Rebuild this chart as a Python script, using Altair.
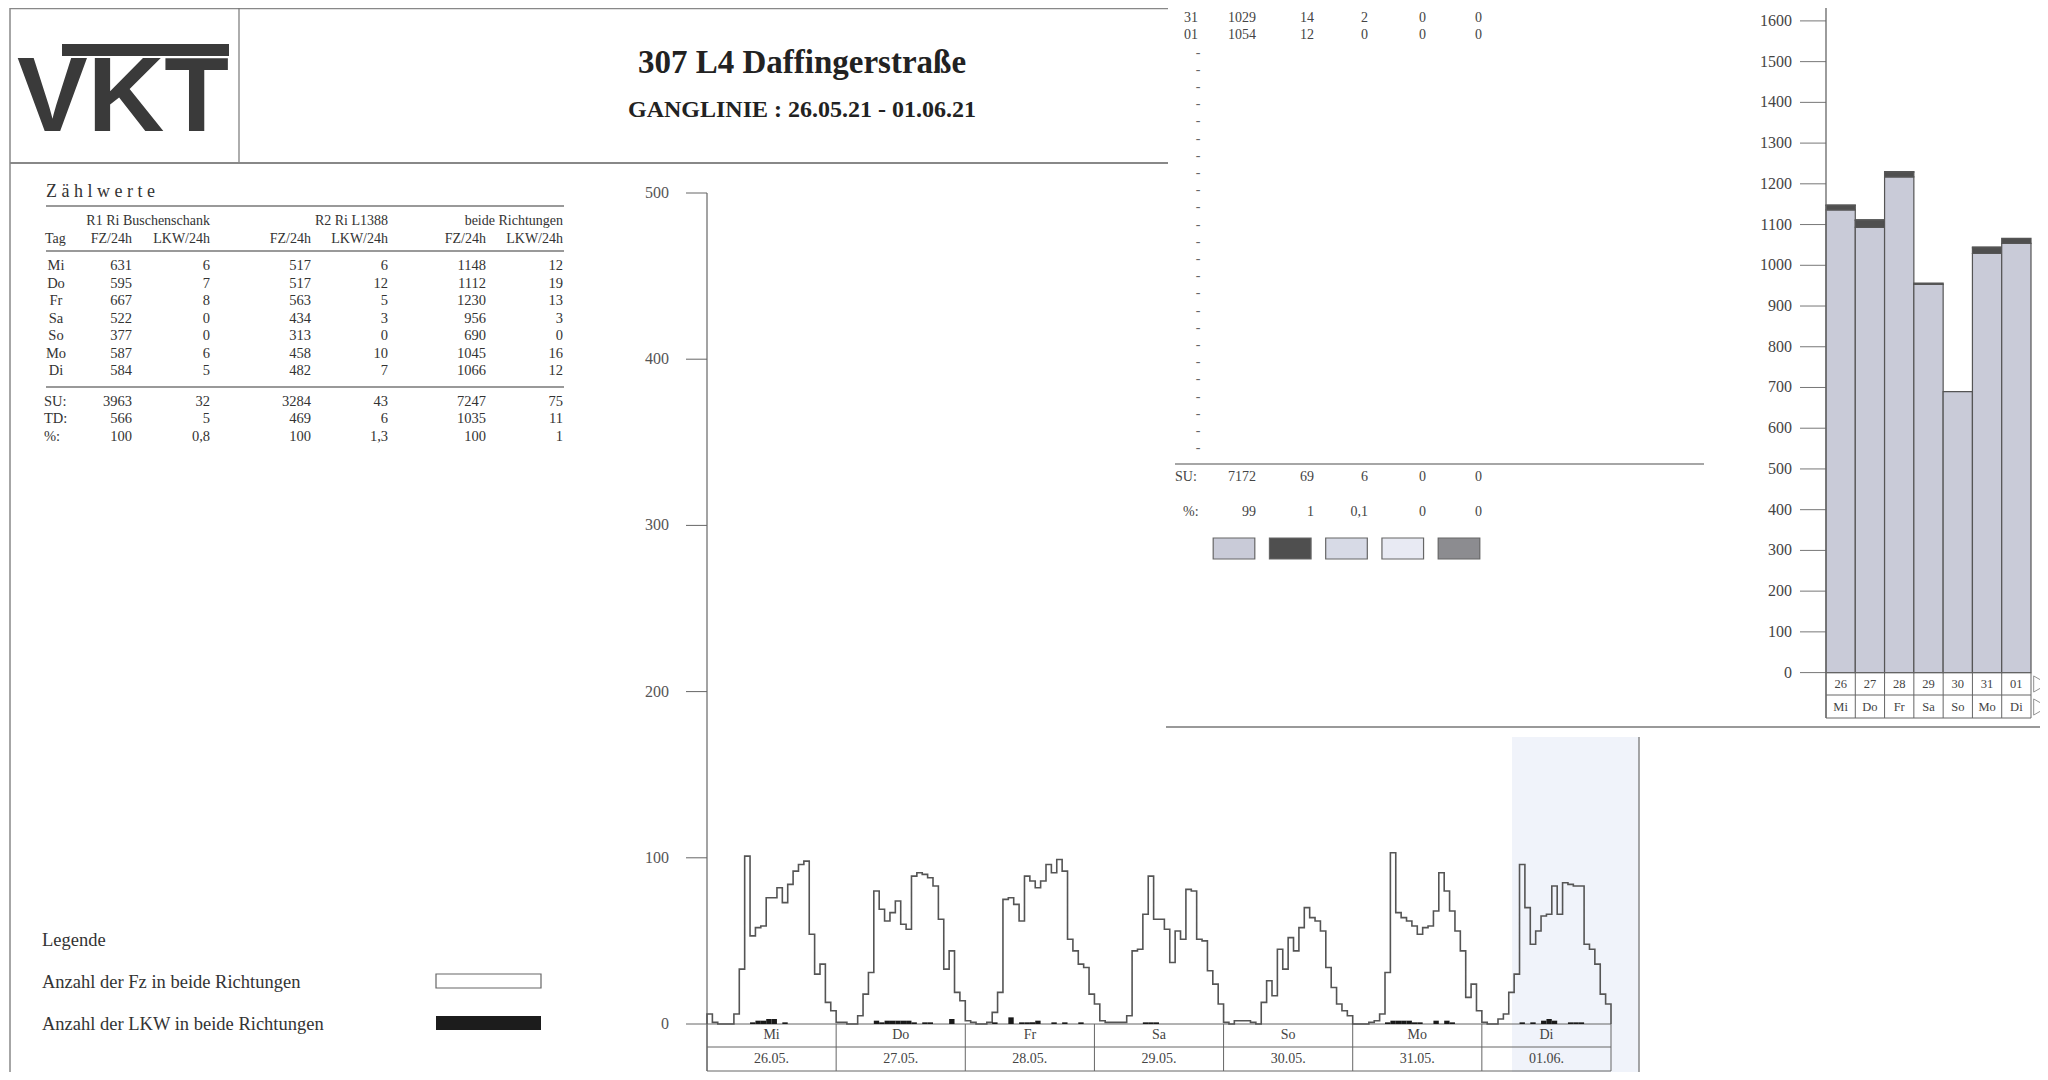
import altair as alt
import pandas as pd

SERIF = "Liberation Serif, Times New Roman, serif"
OFF = 8  # page margin: page px -> chart px

# ---------------- data ----------------
days = ["Mi", "Do", "Fr", "Sa", "So", "Mo", "Di"]
dates = ["26.05.", "27.05.", "28.05.", "29.05.", "30.05.", "31.05.", "01.06."]
day_nums = ["26", "27", "28", "29", "30", "31", "01"]

r1_fz = [631, 595, 667, 522, 377, 587, 584]
r1_lkw = [6, 7, 8, 0, 0, 6, 5]
r2_fz = [517, 517, 563, 434, 313, 458, 482]
r2_lkw = [6, 12, 5, 3, 0, 10, 7]
both_fz = [1148, 1112, 1230, 956, 690, 1045, 1066]
both_lkw = [12, 19, 13, 3, 0, 16, 12]

sum_labels = ["SU:", "TD:", "%:"]
sum_r1_fz = ["3963", "566", "100"]
sum_r1_lkw = ["32", "5", "0,8"]
sum_r2_fz = ["3284", "469", "100"]
sum_r2_lkw = ["43", "6", "1,3"]
sum_both_fz = ["7247", "1035", "100"]
sum_both_lkw = ["75", "11", "1"]

# hourly vehicles (both directions), one list per day
fz_mi = [6, 1, 0, 0, 0, 6, 33, 101, 53, 58, 59, 76, 76, 82, 73, 84, 92, 96, 98, 54, 30, 36, 13, 8]
fz_do = [1, 1, 0, 0, 5, 18, 31, 80, 69, 62, 67, 74, 60, 57, 89, 91, 90, 88, 83, 63, 33, 44, 19, 14]
fz_fr = [2, 1, 0, 0, 1, 7, 19, 75, 76, 72, 62, 89, 86, 82, 86, 96, 91, 99, 92, 51, 44, 36, 34, 18]
fz_sa = [12, 2, 1, 1, 1, 1, 5, 44, 45, 66, 89, 63, 63, 57, 37, 56, 51, 81, 80, 51, 50, 32, 24, 12]
fz_so = [1, 0, 2, 2, 2, 1, 0, 13, 26, 17, 45, 33, 52, 44, 58, 70, 64, 62, 56, 34, 22, 12, 8, 5]
fz_mo = [0, 0, 0, 1, 2, 6, 31, 103, 67, 64, 62, 59, 54, 58, 59, 68, 91, 80, 68, 56, 44, 16, 24, 8]
fz_di = [1, 0, 0, 3, 6, 19, 30, 96, 70, 48, 56, 65, 66, 83, 66, 85, 84, 83, 83, 48, 45, 36, 18, 12]

lkw_mi = [0, 0, 0, 0, 0, 0, 0, 0, 1, 2, 2, 3, 3, 0, 1, 0, 0, 0, 0, 0, 0, 0, 0, 0]
lkw_do = [0, 0, 0, 0, 0, 0, 0, 2, 1, 2, 2, 2, 2, 2, 1, 0, 1, 1, 0, 0, 0, 3, 0, 0]
lkw_fr = [0, 0, 0, 0, 0, 1, 0, 0, 4, 0, 1, 1, 1, 2, 0, 0, 1, 0, 1, 0, 0, 1, 0, 0]
lkw_sa = [0, 0, 0, 0, 0, 0, 0, 0, 0, 1, 1, 1, 0, 0, 0, 0, 0, 0, 0, 0, 0, 0, 0, 0]
lkw_so = [0, 0, 0, 0, 0, 0, 0, 0, 0, 0, 0, 0, 0, 0, 0, 0, 0, 0, 0, 0, 0, 0, 0, 0]
lkw_mo = [0, 0, 0, 0, 0, 0, 1, 2, 2, 2, 2, 1, 1, 0, 0, 2, 0, 2, 1, 0, 0, 0, 0, 0]
lkw_di = [0, 0, 0, 0, 0, 0, 0, 1, 0, 1, 0, 2, 3, 2, 0, 0, 1, 1, 1, 0, 0, 0, 0, 0]

hour_ticks = [0, 100, 200, 300, 400, 500]

# daily classes (right page)
cls1 = [1136, 1093, 1217, 953, 690, 1029, 1054]
cls2 = [11, 17, 12, 3, 0, 14, 12]
cls3 = [1, 2, 1, 0, 0, 2, 0]
cls4 = [0, 0, 0, 0, 0, 0, 0]
cls5 = [0, 0, 0, 0, 0, 0, 0]
class_names = ["K1", "K2", "K3", "K4", "K5"]
class_colors = ["#c9cbd8", "#4f4f4f", "#d7dae6", "#e8eaf3", "#8c8c90"]
day_ticks = list(range(0, 1700, 100))

month_rows = [["30", "690", "0", "0", "0", "0"],
              ["31", "1029", "14", "2", "0", "0"],
              ["01", "1054", "12", "0", "0", "0"]]
su_row = ["7172", "69", "6", "0", "0"]
pct_row = ["99", "1", "0,1", "0", "0"]

# ---------------- helpers ----------------
one = pd.DataFrame({"a": [0]})


def sc(domain, rng):
    return alt.Scale(domain=domain, range=rng, nice=False, zero=False)


def rule(x1, y1, x2, y2, color="#6a6a6a", w=1.0):
    return alt.Chart(one).mark_rule(color=color, strokeWidth=w).encode(
        x=alt.value(x1 - OFF), x2=alt.value(x2 - OFF),
        y=alt.value(y1 - OFF), y2=alt.value(y2 - OFF))


def box(x1, y1, x2, y2, fill, stroke=None, w=1.0):
    kw = dict(color=fill)
    if stroke:
        kw.update(stroke=stroke, strokeWidth=w)
    return alt.Chart(one).mark_rect(**kw).encode(
        x=alt.value(x1 - OFF), x2=alt.value(x2 - OFF),
        y=alt.value(y1 - OFF), y2=alt.value(y2 - OFF))


def label(t, x, y, size, align="left", weight="normal", color="#333", font=SERIF,
          baseline="middle"):
    return alt.Chart(pd.DataFrame({"t": [t]})).mark_text(
        align=align, baseline=baseline, fontSize=size, fontWeight=weight,
        color=color, font=font).encode(
        x=alt.value(x - OFF), y=alt.value(y - OFF), text="t:N")


layers = []

# scan tint and frames
layers.append(box(1512, 737, 1639, 1090, "#f0f3fa"))
layers += [
    rule(10, 8.5, 1168, 8.5, "#888", 1.5),
    rule(10, 0, 10, 1090, "#888", 1.5),
    rule(239, 8, 239, 163, "#777", 1.2),
    rule(10, 163, 1168, 163, "#888", 2),
    rule(1166, 727, 2048, 727, "#999", 2),
    rule(1639, 737, 1639, 1090, "#888", 1.5),
]

# logo and titles
layers.append(label("VKT", 17, 131, 106, weight="bold", color="#3a3a3a",
                    font="Liberation Sans, Arial, sans-serif", baseline="alphabetic"))
layers.append(box(62, 44, 229, 56, "#3a3a3a"))
layers.append(label("307 L4 Daffingerstraße", 802, 63, 33, align="center", weight="bold", color="#222"))
layers.append(label("GANGLINIE : 26.05.21 - 01.06.21", 802, 110, 24, align="center", weight="bold", color="#222"))

# ---------------- Zählwerte table ----------------
layers.append(label("Z ä h l w e r t e", 46, 192, 18, color="#333"))
layers.append(rule(46, 206, 564, 206, "#777", 1.5))
layers.append(label("R1 Ri Buschenschank", 210, 221, 14, align="right"))
layers.append(label("R2 Ri L1388", 388, 221, 14, align="right"))
layers.append(label("beide Richtungen", 563, 221, 14, align="right"))
layers.append(label("Tag", 45, 239, 14))
for t, xr in zip(["FZ/24h", "LKW/24h", "FZ/24h", "LKW/24h", "FZ/24h", "LKW/24h"],
                 [132, 210, 311, 388, 486, 563]):
    layers.append(label(t, xr, 239, 14, align="right"))
layers.append(rule(46, 251, 564, 251, "#777", 1.5))
layers.append(rule(46, 387, 564, 387, "#777", 1.5))

trow = sc([0, 10], [266 - OFF, 266 - OFF + 175])
data_rows = list(range(7))
sum_rows = [7.75, 8.75, 9.75]


def col_text(rows, texts, x, scale, align="right", size=14.5, color="#333"):
    df = pd.DataFrame({"r": rows, "t": texts})
    return alt.Chart(df).mark_text(align=align, baseline="middle", fontSize=size,
                                   font=SERIF, color=color).encode(
        x=alt.value(x - OFF), y=alt.Y("r:Q", scale=scale, axis=None), text="t:N")


layers.append(col_text(data_rows, days, 56, trow, align="center"))
layers.append(col_text(sum_rows, sum_labels, 44, trow, align="left"))
cols = [(r1_fz, sum_r1_fz, 132), (r1_lkw, sum_r1_lkw, 210), (r2_fz, sum_r2_fz, 311),
        (r2_lkw, sum_r2_lkw, 388), (both_fz, sum_both_fz, 486), (both_lkw, sum_both_lkw, 563)]
for vals, sums, xr in cols:
    layers.append(col_text(data_rows + sum_rows, [str(v) for v in vals] + sums, xr, trow))

# legend
layers.append(label("Legende", 42, 940, 18.5))
layers.append(label("Anzahl der Fz in beide Richtungen", 42, 982, 18.5))
layers.append(label("Anzahl der LKW in beide Richtungen", 42, 1024, 18.5))
layers.append(box(436, 974, 541, 988, "#ffffff", "#666", 1.2))
layers.append(box(436, 1016, 541, 1030, "#1c1c1c"))

# ---------------- hourly chart ----------------
hx = sc([0, 168], [707 - OFF, 1611 - OFF])
hy = sc([0, 500], [1024 - OFF, 193 - OFF])

fz_all = fz_mi + fz_do + fz_fr + fz_sa + fz_so + fz_mo + fz_di
lkw_all = lkw_mi + lkw_do + lkw_fr + lkw_sa + lkw_so + lkw_mo + lkw_di

line_df = pd.DataFrame({
    "i": list(range(len(fz_all) + 2)),
    "h": [0] + list(range(len(fz_all))) + [len(fz_all)],
    "v": [0] + fz_all + [0],
})
lkw_df = pd.DataFrame({
    "h": [i for i, v in enumerate(lkw_all) if v > 0],
    "v": [v for v in lkw_all if v > 0],
})
lkw_df["h1"] = lkw_df["h"] + 1
lkw_df["z"] = 0

tick_df = pd.DataFrame({"v": hour_ticks, "t": [str(v) for v in hour_ticks]})
layers.append(alt.Chart(tick_df).mark_rule(color="#666", strokeWidth=1).encode(
    x=alt.value(686 - OFF), x2=alt.value(707 - OFF),
    y=alt.Y("v:Q", scale=hy, axis=None)))
layers.append(alt.Chart(tick_df).mark_text(align="right", baseline="middle", fontSize=16,
                                           font=SERIF, color="#555").encode(
    x=alt.value(669 - OFF), y=alt.Y("v:Q", scale=hy, axis=None), text="t:N"))
layers.append(alt.Chart(pd.DataFrame({"v": [500]})).mark_rule(color="#666", strokeWidth=1.2).encode(
    x=alt.value(707 - OFF), y=alt.Y("v:Q", scale=hy, axis=None), y2=alt.value(1063)))

# day table under hourly chart
bound_df = pd.DataFrame({"b": [24 * d for d in range(8)]})
layers.append(alt.Chart(bound_df).mark_rule(color="#666", strokeWidth=1).encode(
    x=alt.X("b:Q", scale=hx, axis=None), y=alt.value(1024 - OFF), y2=alt.value(1063)))
for yy in [1024, 1047]:
    layers.append(alt.Chart(pd.DataFrame({"a": [0], "b": [168]})).mark_rule(color="#666", strokeWidth=1).encode(
        x=alt.X("a:Q", scale=hx, axis=None), x2="b:Q", y=alt.value(yy - OFF)))
layers.append(alt.Chart(pd.DataFrame({"a": [0], "b": [168]})).mark_rule(color="#666", strokeWidth=1).encode(
    x=alt.X("a:Q", scale=hx, axis=None), x2="b:Q", y=alt.value(1063)))
dlab = pd.DataFrame({"c": [24 * d + 12 for d in range(7)], "d": days, "t": dates})
layers.append(alt.Chart(dlab).mark_text(fontSize=14, font=SERIF, color="#444", baseline="middle").encode(
    x=alt.X("c:Q", scale=hx, axis=None), y=alt.value(1035 - OFF), text="d:N"))
layers.append(alt.Chart(dlab).mark_text(fontSize=14, font=SERIF, color="#444", baseline="middle").encode(
    x=alt.X("c:Q", scale=hx, axis=None), y=alt.value(1059 - OFF), text="t:N"))

layers.append(alt.Chart(line_df).mark_line(interpolate="step-after", color="#555", strokeWidth=1.6).encode(
    x=alt.X("h:Q", scale=hx, axis=None), y=alt.Y("v:Q", scale=hy, axis=None), order="i:Q"))
layers.append(alt.Chart(lkw_df).mark_rect(color="#1a1a1a").encode(
    x=alt.X("h:Q", scale=hx, axis=None), x2="h1:Q",
    y=alt.Y("v:Q", scale=hy, axis=None), y2="z:Q"))

# ---------------- right page: monthly table ----------------
mrow = sc([0, 30], [1 - OFF, 1 - OFF + 30 * 17.2])
mcols = [1256, 1314, 1368, 1426, 1482]
layers.append(col_text([0, 1, 2], [r[0] for r in month_rows], 1191, mrow, align="center", size=14, color="#444"))
for k, xr in enumerate(mcols):
    layers.append(col_text([0, 1, 2], [r[k + 1] for r in month_rows], xr, mrow, size=14, color="#444"))
dash_rows = list(range(3, 27))
layers.append(col_text(dash_rows, ["-"] * len(dash_rows), 1198, mrow, align="center", size=14, color="#666"))
layers.append(rule(1175, 464, 1704, 464, "#888", 1.5))
layers.append(col_text([27.7], ["SU:"], 1175, mrow, align="left", size=14, color="#444"))
layers.append(col_text([29.7], ["%:"], 1183, mrow, align="left", size=14, color="#444"))
for k, xr in enumerate(mcols):
    layers.append(col_text([27.7, 29.7], [su_row[k], pct_row[k]], xr, mrow, size=14, color="#444"))

sw_x = sc([0, 4], [1234 - OFF, 1459 - OFF])
sw_df = pd.DataFrame({"k": list(range(5)), "c": class_names})
sw_df["k0"] = sw_df["k"] - 0.37
sw_df["k1"] = sw_df["k"] + 0.37
layers.append(alt.Chart(sw_df).mark_rect(stroke="#666", strokeWidth=1.2).encode(
    x=alt.X("k0:Q", scale=sw_x, axis=None), x2="k1:Q",
    y=alt.value(538 - OFF), y2=alt.value(559 - OFF),
    color=alt.Color("c:N", scale=alt.Scale(domain=class_names, range=class_colors), legend=None)))

# ---------------- right page: daily bars ----------------
bx = sc([0, 7], [1826 - OFF, 2031 - OFF])
by = sc([0, 1600], [672.6 - OFF, 20.9 - OFF])

rows = []
for i in range(7):
    base = 0
    for name, arr in zip(class_names, [cls1, cls2, cls3, cls4, cls5]):
        v = arr[i]
        if v > 0:
            rows.append({"d0": i, "d1": i + 1, "y0": base, "y1": base + v, "c": name})
        base += v
bar_df = pd.DataFrame(rows)

dt_df = pd.DataFrame({"v": day_ticks, "t": [str(v) for v in day_ticks]})
layers.append(alt.Chart(dt_df).mark_rule(color="#777", strokeWidth=1).encode(
    x=alt.value(1800 - OFF), x2=alt.value(1826 - OFF), y=alt.Y("v:Q", scale=by, axis=None)))
layers.append(alt.Chart(dt_df).mark_text(align="right", baseline="middle", fontSize=16,
                                         font=SERIF, color="#444").encode(
    x=alt.value(1792 - OFF), y=alt.Y("v:Q", scale=by, axis=None), text="t:N"))

layers.append(alt.Chart(bar_df).mark_rect(stroke="#555", strokeWidth=1.2).encode(
    x=alt.X("d0:Q", scale=bx, axis=None), x2="d1:Q",
    y=alt.Y("y0:Q", scale=by, axis=None), y2="y1:Q",
    color=alt.Color("c:N", scale=alt.Scale(domain=class_names, range=class_colors), legend=None)))

layers.append(rule(1826, 0, 1826, 718, "#666", 1.3))
layers.append(alt.Chart(pd.DataFrame({"b": list(range(8))})).mark_rule(color="#666", strokeWidth=1).encode(
    x=alt.X("b:Q", scale=bx, axis=None), y=alt.value(672.6 - OFF), y2=alt.value(718 - OFF)))
for yy in [672.6, 695, 718]:
    layers.append(alt.Chart(pd.DataFrame({"a": [0], "b": [7]})).mark_rule(color="#666", strokeWidth=1).encode(
        x=alt.X("a:Q", scale=bx, axis=None), x2="b:Q", y=alt.value(yy - OFF)))
blab = pd.DataFrame({"c": [i + 0.5 for i in range(7)], "n": day_nums, "d": days})
layers.append(alt.Chart(blab).mark_text(fontSize=12.5, font=SERIF, color="#444", baseline="middle").encode(
    x=alt.X("c:Q", scale=bx, axis=None), y=alt.value(684 - OFF), text="n:N"))
layers.append(alt.Chart(blab).mark_text(fontSize=12.5, font=SERIF, color="#444", baseline="middle").encode(
    x=alt.X("c:Q", scale=bx, axis=None), y=alt.value(707 - OFF), text="d:N"))
layers.append(alt.Chart(pd.DataFrame({"c": [7.33, 7.33], "y": [684, 707]})).mark_point(
    shape="triangle-right", filled=False, color="#666", size=260, strokeWidth=1).encode(
    x=alt.X("c:Q", scale=bx, axis=None), y=alt.Y("y:Q", scale=sc([0, 1064], [-OFF, 1064 - OFF]), axis=None)))

chart = alt.layer(*layers).resolve_scale(
    x="independent", y="independent", color="independent"
).properties(
    width=2032, height=1064, padding=0,
    autosize=alt.AutoSizeParams(type="none"),
    background="#ffffff",
).configure_view(stroke=None)

chart.save("out.html", embed_options={"renderer": "svg", "actions": False})
